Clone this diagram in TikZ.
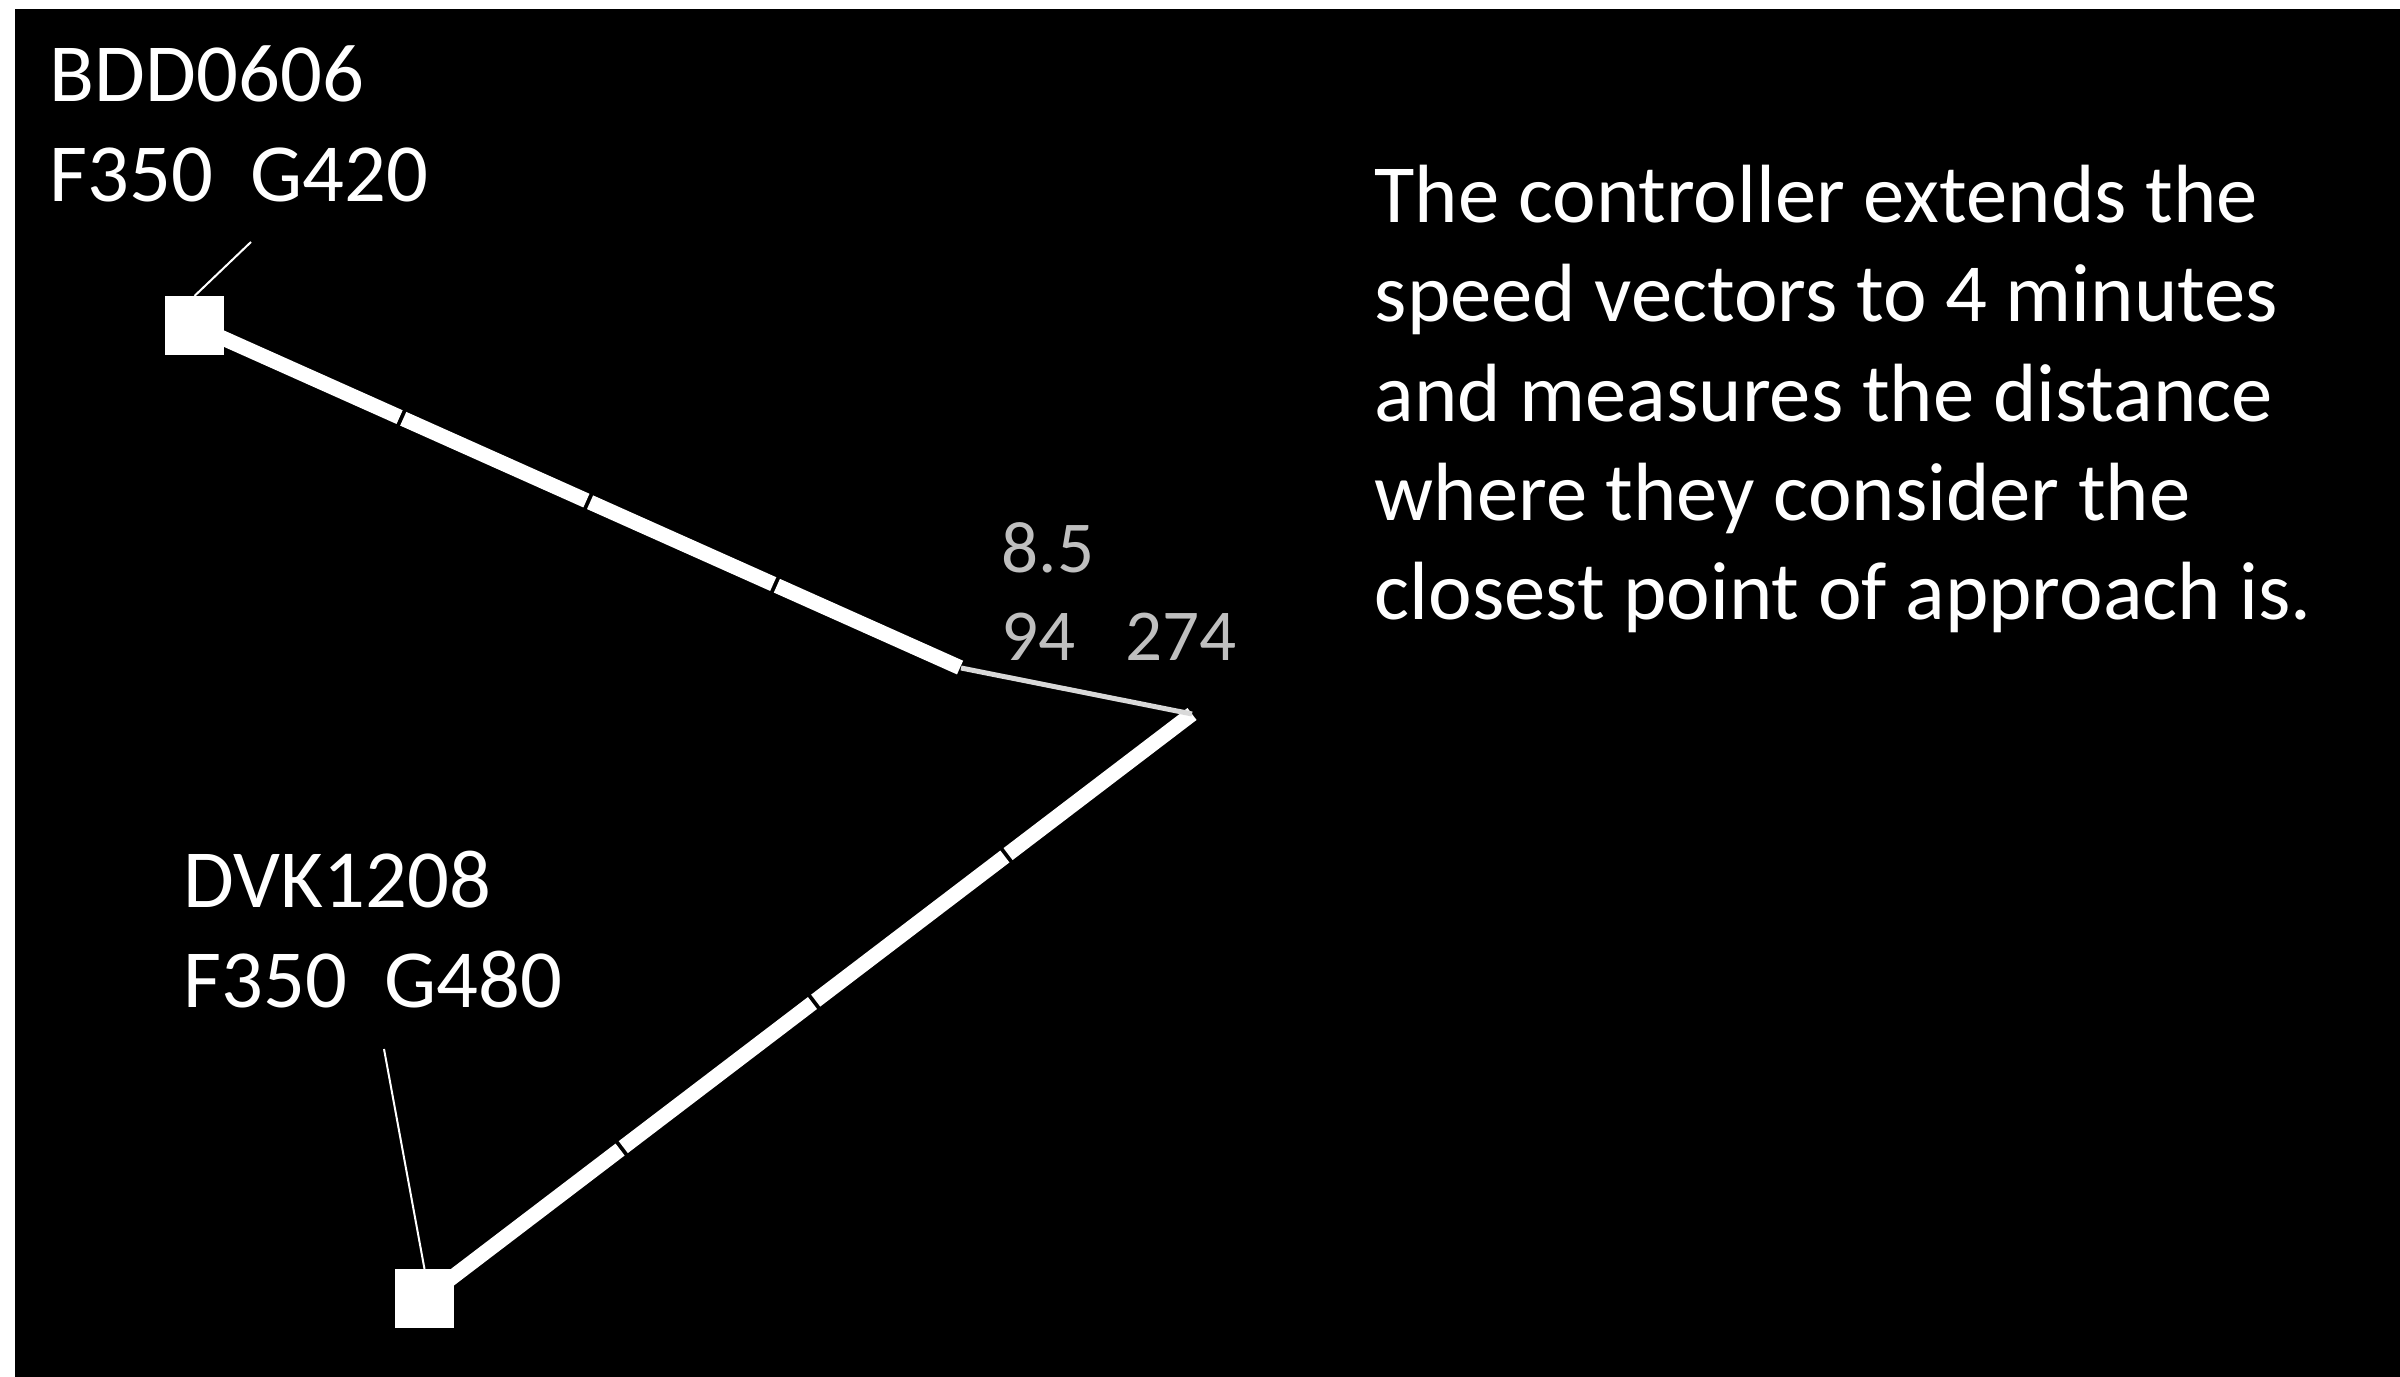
\documentclass[tikz,border=0pt]{standalone}
\usepackage{fontspec}
\setmainfont{Carlito}
\definecolor{cpagrey}{HTML}{D9D9D9}
\definecolor{readgrey}{HTML}{BFBFBF}
\tikzset{
	track/.style={fill=white,minimum size=5.9mm,inner sep=0pt,outer sep=0pt},
	callsign/.style={white,anchor=base west,inner sep=0pt,align=left,font=\fontsize{23.5pt}{28.45pt}\selectfont},
	readout/.style={readgrey,anchor=base west,inner sep=0pt,align=left,font=\fontsize{20.8pt}{25.04pt}\selectfont},
	leader/.style={white,line width=0.2mm},
	vector/.style={white,line width=1.5mm},
	cpa/.style={cpagrey,line width=0.5mm}
}
\begin{document}
\begin{tikzpicture}[x=0.01cm,y=-0.01cm]
	\useasboundingbox (0,0) rectangle (2400,1377);
	\fill[white] (0,0) rectangle (2400,1377);
	\fill[black] (15,9) rectangle (2400,1377);
	% tracks and their labels (anchored on the last baseline)
	\node[track] (bddsq) at (194.5,325.5) {};
	\node[track] (dvksq) at (424.5,1298.5) {};
	\node[callsign] (bddlabel) at (49,202) {BDD0606\\F350\ \ G420};
	\node[callsign] (dvklabel) at (183,1008) {DVK1208\\F350\ \ G480};
	\coordinate (bddtag) at (251,242);
	\coordinate (dvktag) at (384,1049);
	\draw[leader] (bddsq.north) -- (bddtag);
	\draw[leader] (dvksq.north) -- (dvktag);
	% speed vectors, 1 minute per segment
	\coordinate (bddend) at (961,668);
	\coordinate (dvkend) at (1192,714);
	\draw[vector,shorten <=2.4mm,dash pattern=on 20.05mm off 0.4mm] (bddsq.center) -- (bddend);
	\draw[vector,shorten <=0.8mm,dash pattern=on 23.77mm off 0.4mm] (dvksq.center) -- (dvkend);
	\draw[cpa] (bddend) -- (dvkend);
	\node[readout] (cpalabel) at (1001,661) {8.5\\94\ \ \ 274};
	\node[callsign,font=\fontsize{23.5pt}{28.25pt}\selectfont] (note) at (1374,620) {The controller extends the\\speed vectors to 4 minutes\\and measures the distance\\where they consider the\\closest point of approach is.};
\end{tikzpicture}
\end{document}
